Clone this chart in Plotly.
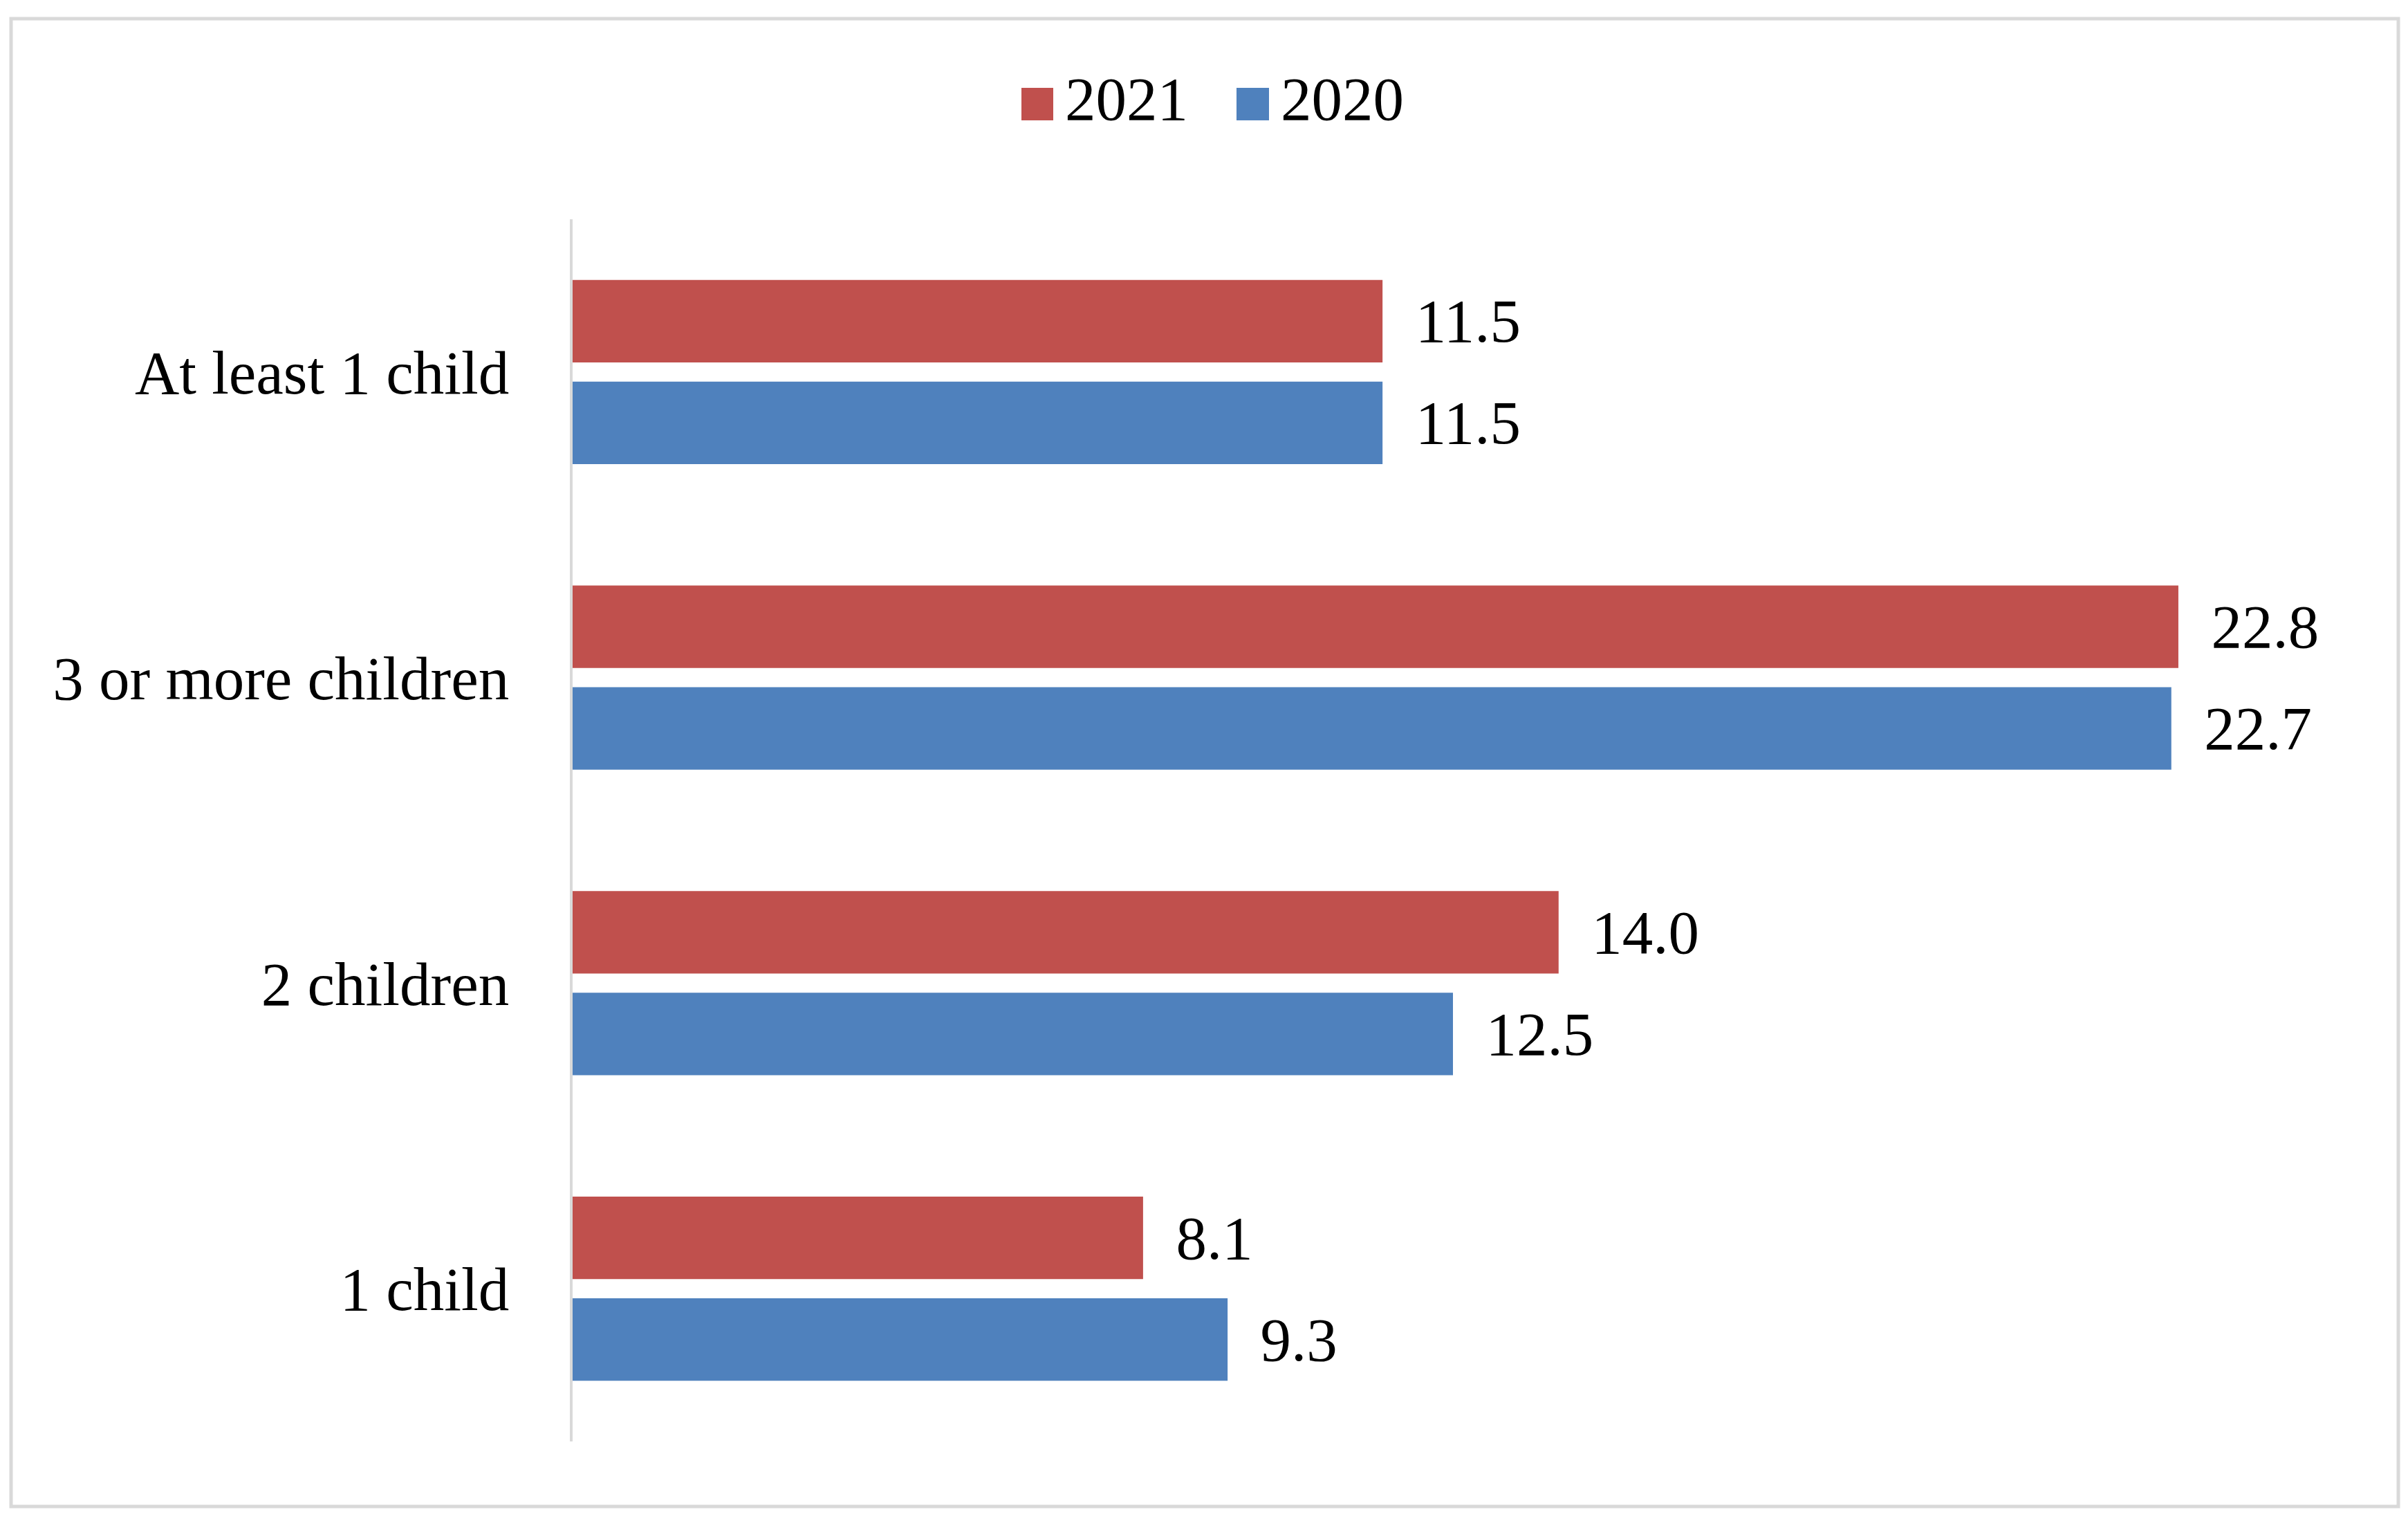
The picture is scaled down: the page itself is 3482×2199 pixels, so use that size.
import plotly.graph_objects as go

# ---- data ----
categories = ["1 child", "2 children", "3 or more children", "At least 1 child"]
values_2020 = [9.3, 12.5, 22.7, 11.5]
values_2021 = [8.1, 14.0, 22.8, 11.5]
series_names = ["2021", "2020"]
color_2021 = "#C0504D"
color_2020 = "#4F81BD"

# ---- layout geometry (pixels) ----
W, H = 3482, 2199
ML, MR, MT, MB = 820, 116, 309, 123
PW = W - ML - MR
PH = H - MT - MB
FONT = "Liberation Serif, Times New Roman, serif"
FS = 89


def px_x(px):
    return (px - ML) / PW


def px_y(py):
    return (H - MB - py) / PH


def lbl(v):
    return "\u00a0\u00a0" + f"{v:.1f}"


fig = go.Figure()
fig.add_trace(go.Bar(
    y=categories, x=values_2020, orientation="h", name=series_names[1],
    marker=dict(color=color_2020, line=dict(width=0)),
    text=[lbl(v) for v in values_2020], textposition="outside",
    textfont=dict(family=FONT, size=FS, color="black"),
    constraintext="none", cliponaxis=False, showlegend=False,
))
fig.add_trace(go.Bar(
    y=categories, x=values_2021, orientation="h", name=series_names[0],
    marker=dict(color=color_2021, line=dict(width=0)),
    text=[lbl(v) for v in values_2021], textposition="outside",
    textfont=dict(family=FONT, size=FS, color="black"),
    constraintext="none", cliponaxis=False, showlegend=False,
))

shapes = [
    # outer chart border
    dict(type="rect", xref="paper", yref="paper",
         x0=px_x(8), x1=px_x(3460), y0=px_y(2170), y1=px_y(19),
         line=dict(color="#D9D9D9", width=5), fillcolor="rgba(0,0,0,0)", layer="below"),
    # legend swatches
    dict(type="rect", xref="paper", yref="paper",
         x0=px_x(1469), x1=px_x(1515), y0=px_y(166), y1=px_y(119),
         line=dict(width=0), fillcolor=color_2021),
    dict(type="rect", xref="paper", yref="paper",
         x0=px_x(1780), x1=px_x(1827), y0=px_y(166), y1=px_y(119),
         line=dict(width=0), fillcolor=color_2020),
]

annotations = [
    dict(xref="paper", yref="paper", x=px_x(1530), y=px_y(135), text=series_names[0],
         showarrow=False, xanchor="left", yanchor="middle",
         font=dict(family=FONT, size=FS, color="black")),
    dict(xref="paper", yref="paper", x=px_x(1842), y=px_y(135), text=series_names[1],
         showarrow=False, xanchor="left", yanchor="middle",
         font=dict(family=FONT, size=FS, color="black")),
]

fig.update_layout(
    width=W, height=H, autosize=False,
    margin=dict(l=ML, r=MR, t=MT, b=MB, pad=0),
    paper_bgcolor="white", plot_bgcolor="white",
    font=dict(family=FONT, size=FS, color="black"),
    barmode="group", bargap=0.334, bargroupgap=0.19,
    showlegend=False,
    shapes=shapes, annotations=annotations,
    xaxis=dict(range=[0, 25], showgrid=False, zeroline=False, showticklabels=False,
               showline=False, ticks=""),
    yaxis=dict(categoryorder="array", categoryarray=categories,
               showgrid=False, zeroline=False, showline=True,
               linecolor="#D9D9D9", linewidth=4, ticks="",
               ticklabelstandoff=70,
               tickfont=dict(family=FONT, size=FS, color="black")),
)

fig.write_html("out.html")
